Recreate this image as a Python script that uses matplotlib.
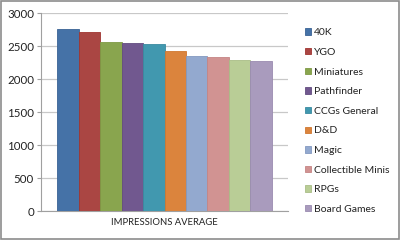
import matplotlib
matplotlib.use("Agg")
import matplotlib.pyplot as plt
from matplotlib.patches import Rectangle

categories = ["40K", "YGO", "Miniatures", "Pathfinder", "CCGs General", "D&D",
              "Magic", "Collectible Minis", "RPGs", "Board Games"]
values = [2753, 2717, 2566, 2545, 2530, 2424, 2344, 2333, 2283, 2277]
colors = ["#4572A7", "#AA4643", "#89A54E", "#71588F", "#4198AF", "#DB843D",
          "#93A9CF", "#D19392", "#B9CD96", "#A99BBD"]
edges = ["#3A6394", "#A03530", "#7E9A45", "#634C80", "#3A8AA0", "#D07830",
         "#8399C0", "#C58584", "#A9BD86", "#9A8BB0"]
yticks = [0, 500, 1000, 1500, 2000, 2500, 3000]
xlabel = "IMPRESSIONS AVERAGE"

plt.rcParams['font.family'] = ['Lato', 'DejaVu Sans']
fig = plt.figure(figsize=(4, 2.4), dpi=100)
fig.patch.set_facecolor("white")
ax = fig.add_axes([0.1025, 0.1208, 0.6175, 0.825])

n = len(values)
group = 0.868
w = group / n
xs = [-group / 2 + w * (i + 0.5) for i in range(n)]
handles = []
for x, v, c, e, lab in zip(xs, values, colors, edges, categories):
    b = ax.bar(x, v, width=w, color=c, edgecolor=e, linewidth=0.6, label=lab, zorder=3)
    handles.append(b)

ax.set_xlim(-0.5, 0.5)
ax.set_ylim(0, 3000)
ax.set_yticks(yticks)
ax.set_yticklabels([str(t) for t in yticks], fontsize=8.3, color="#222222")
ax.set_xticks([])
ax.grid(axis="y", color="#C8C8C8", linewidth=0.9, zorder=0)
for s in ["top", "right"]:
    ax.spines[s].set_visible(False)
ax.spines["left"].set_color("#A0A0A0")
ax.spines["bottom"].set_color("#A0A0A0")
ax.spines["left"].set_linewidth(0.8)
ax.spines["bottom"].set_linewidth(0.8)
ax.tick_params(axis="y", length=3, width=0.8, color="#A0A0A0", pad=2)
ax.set_xlabel(xlabel, fontsize=6.8, color="#222222", labelpad=5)

leg = fig.legend(handles=handles, labels=categories, loc="upper left",
                 bbox_to_anchor=(0.762, 0.882), frameon=False, fontsize=7.5,
                 handlelength=0.55, handleheight=0.55, handletextpad=0.35,
                 labelspacing=1.02, borderaxespad=0, borderpad=0)
for t in leg.get_texts():
    t.set_color("#222222")

fig.patches.append(Rectangle((0.002, 0.004), 0.995, 0.992, transform=fig.transFigure,
                             fill=False, edgecolor="#8C8C8C", linewidth=1.2))
fig.savefig("out.png", dpi=100, facecolor="white")
